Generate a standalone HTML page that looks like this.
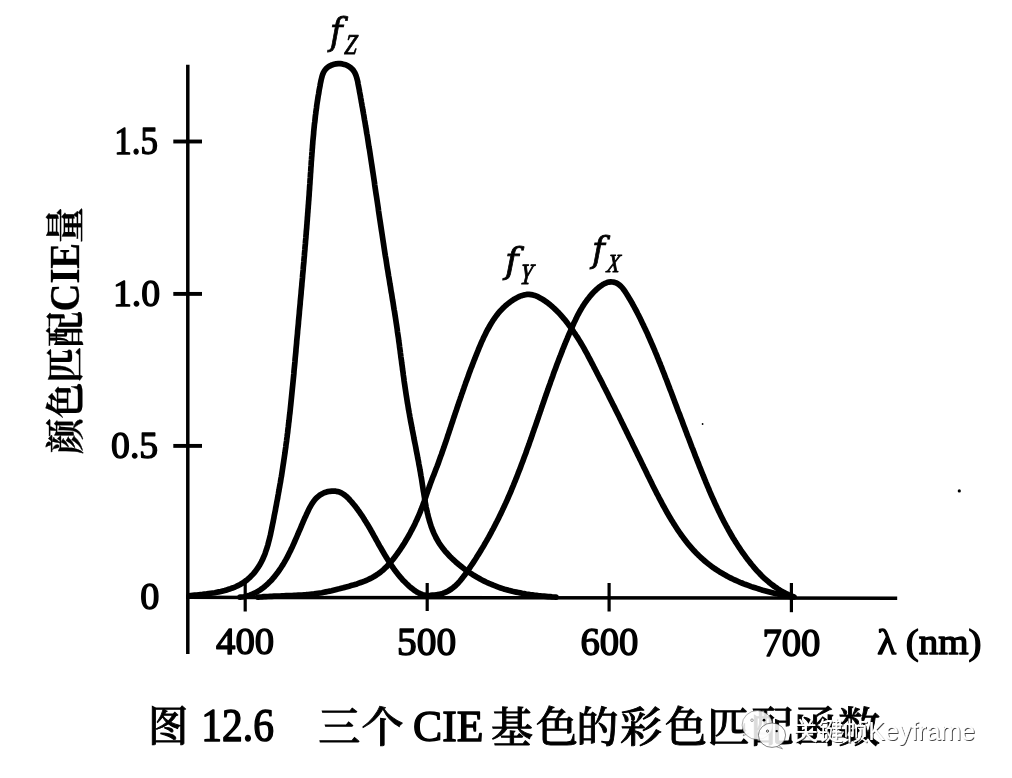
<!DOCTYPE html>
<html><head><meta charset="utf-8"><title>CIE color matching functions</title>
<style>
html,body{margin:0;padding:0;background:#fff;}
body{width:1012px;height:778px;overflow:hidden;position:relative;}
svg{position:absolute;left:0;top:0;filter:grayscale(1);}
.t{font-family:'Liberation Serif', 'Times New Roman', serif;fill:#000;}
.c{font-family:'Liberation Serif', 'Noto Serif CJK SC', serif;fill:#000;}
.w{font-family:'Liberation Sans', 'Noto Sans CJK SC', sans-serif;}
</style></head>
<body>
<svg width="1012" height="778" viewBox="0 0 1012 778">
<g stroke="#000" stroke-width="3.5" stroke-linecap="butt" fill="none">
<line x1="187.8" y1="64.8" x2="187.8" y2="654"/>
<line x1="186" y1="597.3" x2="897.2" y2="598.2"/>
</g>
<g stroke="#000" stroke-width="3.9" stroke-linecap="butt" fill="none">
<line x1="173.3" y1="141.5" x2="202" y2="141.5"/>
<line x1="173.3" y1="293.9" x2="202" y2="293.9"/>
<line x1="173.3" y1="445.9" x2="202" y2="445.9"/>
</g>
<g stroke="#000" stroke-width="3.2" stroke-linecap="butt" fill="none">
<line x1="245.2" y1="580" x2="245.2" y2="611.5"/>
<line x1="427.2" y1="583" x2="427.2" y2="611"/>
<line x1="609.1" y1="583" x2="609.1" y2="611.5"/>
<line x1="791.4" y1="583" x2="791.4" y2="612.2"/>
</g>
<g stroke="#000" stroke-width="5.7" stroke-linecap="round" stroke-linejoin="round" fill="none">
<path d="M189.0 595.8 L190.9 595.6 L192.8 595.4 L194.7 595.2 L196.7 595.0 L198.6 594.8 L200.6 594.6 L202.6 594.4 L204.6 594.1 L206.6 593.9 L208.7 593.6 L210.7 593.3 L212.7 593.0 L214.7 592.7 L216.8 592.3 L218.8 591.9 L220.8 591.5 L222.8 591.0 L224.7 590.5 L226.7 589.9 L228.6 589.3 L230.5 588.7 L232.4 588.0 L234.3 587.3 L236.1 586.5 L237.9 585.6 L239.7 584.7 L241.4 583.7 L243.1 582.7 L244.7 581.6 L246.3 580.4 L247.8 579.2 L249.3 577.9 L250.7 576.5 L252.1 575.1 L253.5 573.6 L254.7 572.1 L256.0 570.5 L257.1 568.9 L258.3 567.2 L259.3 565.6 L260.3 563.8 L261.3 562.1 L262.2 560.3 L263.0 558.5 L263.8 556.6 L264.6 554.8 L265.3 552.9 L265.9 551.0 L266.6 549.1 L267.2 547.2 L267.8 545.2 L268.3 543.3 L268.8 541.3 L269.3 539.4 L269.8 537.4 L270.3 535.4 L270.7 533.5 L271.1 531.5 L271.5 529.6 L271.9 527.6 L272.3 525.7 L272.7 523.7 L273.1 521.8 L273.5 519.8 L273.9 517.9 L274.2 515.9 L274.6 514.0 L275.0 512.0 L275.4 510.1 L275.7 508.1 L276.1 506.1 L276.5 504.2 L276.8 502.2 L277.2 500.2 L277.6 498.3 L277.9 496.3 L278.3 494.3 L278.6 492.4 L279.0 490.4 L279.3 488.4 L279.7 486.4 L280.0 484.5 L280.4 482.5 L280.7 480.5 L281.0 478.5 L281.4 476.5 L281.7 474.6 L282.0 472.6 L282.3 470.6 L282.6 468.6 L282.9 466.6 L283.2 464.6 L283.5 462.7 L283.8 460.7 L284.1 458.7 L284.4 456.7 L284.7 454.7 L285.0 452.7 L285.2 450.8 L285.5 448.8 L285.8 446.8 L286.0 444.8 L286.3 442.8 L286.6 440.8 L286.8 438.8 L287.1 436.9 L287.3 434.9 L287.6 432.9 L287.8 430.9 L288.0 428.9 L288.3 426.9 L288.5 424.9 L288.7 423.0 L289.0 421.0 L289.2 419.0 L289.4 417.0 L289.6 415.0 L289.9 413.0 L290.1 411.0 L290.3 409.0 L290.5 407.0 L290.7 405.1 L290.9 403.1 L291.1 401.1 L291.3 399.1 L291.5 397.1 L291.7 395.1 L291.9 393.1 L292.1 391.1 L292.3 389.1 L292.5 387.1 L292.7 385.2 L292.9 383.2 L293.1 381.2 L293.3 379.2 L293.5 377.2 L293.7 375.2 L293.9 373.2 L294.0 371.2 L294.2 369.2 L294.4 367.2 L294.6 365.2 L294.8 363.2 L295.0 361.2 L295.1 359.3 L295.3 357.3 L295.5 355.3 L295.7 353.3 L295.9 351.3 L296.0 349.3 L296.2 347.3 L296.4 345.3 L296.6 343.3 L296.7 341.3 L296.9 339.3 L297.1 337.3 L297.3 335.3 L297.5 333.3 L297.6 331.3 L297.8 329.3 L298.0 327.4 L298.2 325.4 L298.4 323.4 L298.5 321.4 L298.7 319.4 L298.9 317.4 L299.1 315.4 L299.3 313.4 L299.4 311.4 L299.6 309.4 L299.8 307.4 L300.0 305.4 L300.2 303.4 L300.3 301.4 L300.5 299.4 L300.7 297.4 L300.9 295.4 L301.1 293.4 L301.2 291.4 L301.4 289.4 L301.6 287.4 L301.8 285.4 L301.9 283.5 L302.1 281.5 L302.3 279.5 L302.5 277.5 L302.6 275.5 L302.8 273.5 L303.0 271.5 L303.2 269.5 L303.3 267.5 L303.5 265.5 L303.7 263.5 L303.9 261.5 L304.0 259.5 L304.2 257.5 L304.4 255.5 L304.5 253.5 L304.7 251.5 L304.9 249.5 L305.0 247.5 L305.2 245.5 L305.4 243.5 L305.5 241.5 L305.7 239.5 L305.9 237.5 L306.0 235.5 L306.2 233.6 L306.3 231.6 L306.5 229.6 L306.7 227.6 L306.8 225.6 L307.0 223.6 L307.1 221.6 L307.3 219.6 L307.4 217.6 L307.6 215.6 L307.7 213.6 L307.9 211.6 L308.0 209.6 L308.2 207.6 L308.3 205.6 L308.5 203.6 L308.6 201.6 L308.8 199.6 L308.9 197.6 L309.1 195.6 L309.2 193.6 L309.3 191.6 L309.5 189.6 L309.6 187.6 L309.7 185.7 L309.9 183.7 L310.0 181.7 L310.1 179.7 L310.3 177.7 L310.4 175.7 L310.5 173.7 L310.7 171.7 L310.8 169.7 L310.9 167.7 L311.1 165.7 L311.2 163.7 L311.3 161.7 L311.5 159.7 L311.6 157.7 L311.8 155.7 L311.9 153.7 L312.1 151.7 L312.2 149.8 L312.4 147.8 L312.5 145.8 L312.7 143.8 L312.8 141.8 L313.0 139.8 L313.2 137.8 L313.4 135.8 L313.6 133.8 L313.7 131.8 L313.9 129.8 L314.1 127.8 L314.3 125.8 L314.5 123.8 L314.8 121.9 L315.0 119.9 L315.2 117.9 L315.4 115.9 L315.7 113.9 L315.9 111.9 L316.2 109.9 L316.5 107.9 L316.7 105.9 L317.0 103.9 L317.3 101.9 L317.6 100.0 L317.9 98.0 L318.2 96.0 L318.6 94.0 L318.9 92.0 L319.2 90.0 L319.6 88.0 L320.0 86.0 L320.3 84.0 L320.7 82.1 L321.1 80.1 L321.6 78.1 L322.1 76.2 L322.7 74.3 L323.4 72.6 L324.4 70.9 L325.5 69.4 L326.8 68.0 L328.4 66.8 L330.1 65.8 L332.0 64.9 L334.0 64.3 L336.1 63.9 L338.2 63.7 L340.3 63.7 L342.3 63.9 L344.3 64.4 L346.2 65.0 L347.9 65.8 L349.6 66.9 L351.1 68.1 L352.5 69.4 L353.7 70.9 L354.7 72.5 L355.5 74.2 L356.2 76.1 L356.8 78.0 L357.3 79.9 L357.8 82.0 L358.1 84.0 L358.5 86.0 L358.9 88.0 L359.3 90.0 L359.6 92.0 L360.0 94.0 L360.4 96.0 L360.7 98.0 L361.1 100.0 L361.4 102.0 L361.8 104.0 L362.1 106.0 L362.5 107.9 L362.8 109.9 L363.2 111.9 L363.5 113.8 L363.9 115.8 L364.2 117.8 L364.5 119.7 L364.9 121.7 L365.2 123.6 L365.5 125.6 L365.9 127.6 L366.2 129.5 L366.5 131.5 L366.8 133.5 L367.2 135.4 L367.5 137.4 L367.8 139.4 L368.1 141.3 L368.4 143.3 L368.7 145.3 L369.0 147.3 L369.4 149.2 L369.7 151.2 L370.0 153.2 L370.3 155.1 L370.6 157.1 L370.9 159.1 L371.2 161.1 L371.5 163.1 L371.8 165.0 L372.1 167.0 L372.4 169.0 L372.7 171.0 L373.0 172.9 L373.3 174.9 L373.6 176.9 L373.9 178.9 L374.2 180.9 L374.5 182.9 L374.7 184.8 L375.0 186.8 L375.3 188.8 L375.6 190.8 L375.9 192.8 L376.2 194.7 L376.5 196.7 L376.8 198.7 L377.1 200.7 L377.4 202.7 L377.7 204.7 L378.0 206.7 L378.3 208.6 L378.5 210.6 L378.8 212.6 L379.1 214.6 L379.4 216.6 L379.7 218.6 L380.0 220.5 L380.3 222.5 L380.6 224.5 L380.9 226.5 L381.2 228.5 L381.5 230.5 L381.8 232.4 L382.1 234.4 L382.4 236.4 L382.7 238.4 L383.0 240.4 L383.3 242.4 L383.6 244.3 L383.9 246.3 L384.2 248.3 L384.5 250.3 L384.8 252.3 L385.1 254.2 L385.4 256.2 L385.8 258.2 L386.1 260.2 L386.4 262.2 L386.7 264.1 L387.0 266.1 L387.3 268.1 L387.7 270.1 L388.0 272.0 L388.3 274.0 L388.6 276.0 L389.0 278.0 L389.3 279.9 L389.6 281.9 L389.9 283.9 L390.3 285.9 L390.6 287.8 L390.9 289.8 L391.2 291.8 L391.6 293.7 L391.9 295.7 L392.2 297.7 L392.5 299.7 L392.9 301.6 L393.2 303.6 L393.5 305.6 L393.8 307.6 L394.1 309.5 L394.5 311.5 L394.8 313.5 L395.1 315.5 L395.4 317.4 L395.7 319.4 L396.0 321.4 L396.3 323.4 L396.6 325.3 L396.9 327.3 L397.2 329.3 L397.4 331.3 L397.7 333.3 L398.0 335.2 L398.3 337.2 L398.6 339.2 L398.8 341.2 L399.1 343.2 L399.4 345.2 L399.6 347.1 L399.9 349.1 L400.2 351.1 L400.4 353.1 L400.7 355.1 L400.9 357.1 L401.2 359.0 L401.5 361.0 L401.7 363.0 L402.0 365.0 L402.3 367.0 L402.5 369.0 L402.8 371.0 L403.1 372.9 L403.3 374.9 L403.6 376.9 L403.9 378.9 L404.1 380.9 L404.4 382.9 L404.7 384.8 L405.0 386.8 L405.3 388.8 L405.6 390.8 L405.9 392.8 L406.2 394.8 L406.5 396.7 L406.8 398.7 L407.1 400.7 L407.4 402.7 L407.8 404.6 L408.1 406.6 L408.4 408.6 L408.8 410.6 L409.1 412.5 L409.5 414.5 L409.8 416.5 L410.2 418.5 L410.5 420.4 L410.9 422.4 L411.3 424.4 L411.7 426.3 L412.0 428.3 L412.4 430.3 L412.8 432.2 L413.2 434.2 L413.6 436.2 L413.9 438.1 L414.3 440.1 L414.7 442.1 L415.1 444.0 L415.5 446.0 L415.9 448.0 L416.2 449.9 L416.6 451.9 L417.0 453.9 L417.4 455.8 L417.7 457.8 L418.1 459.8 L418.5 461.7 L418.8 463.7 L419.2 465.7 L419.6 467.6 L419.9 469.6 L420.3 471.6 L420.6 473.5 L420.9 475.5 L421.3 477.5 L421.6 479.4 L421.9 481.4 L422.2 483.4 L422.5 485.4 L422.8 487.3 L423.1 489.3 L423.4 491.3 L423.8 493.3 L424.1 495.2 L424.4 497.2 L424.7 499.2 L425.0 501.1 L425.4 503.1 L425.8 505.1 L426.1 507.0 L426.5 509.0 L427.0 510.9 L427.4 512.9 L427.9 514.8 L428.3 516.8 L428.9 518.7 L429.4 520.7 L430.0 522.6 L430.6 524.5 L431.2 526.4 L431.9 528.3 L432.6 530.2 L433.4 532.1 L434.2 533.9 L435.1 535.7 L435.9 537.5 L436.9 539.3 L437.9 541.0 L438.9 542.7 L440.0 544.4 L441.1 546.0 L442.3 547.6 L443.6 549.2 L444.8 550.8 L446.1 552.3 L447.5 553.8 L448.8 555.2 L450.2 556.7 L451.6 558.1 L453.1 559.5 L454.6 560.8 L456.0 562.2 L457.6 563.5 L459.1 564.8 L460.6 566.0 L462.2 567.3 L463.8 568.5 L465.4 569.7 L467.0 570.9 L468.7 572.0 L470.3 573.1 L472.0 574.2 L473.7 575.3 L475.4 576.3 L477.1 577.3 L478.9 578.3 L480.6 579.3 L482.4 580.2 L484.2 581.1 L486.0 582.0 L487.8 582.8 L489.6 583.7 L491.5 584.4 L493.3 585.2 L495.2 585.9 L497.0 586.6 L498.9 587.3 L500.8 588.0 L502.7 588.6 L504.6 589.2 L506.6 589.7 L508.5 590.3 L510.4 590.8 L512.4 591.3 L514.3 591.7 L516.3 592.1 L518.2 592.5 L520.2 592.9 L522.2 593.3 L524.2 593.6 L526.1 594.0 L528.1 594.3 L530.1 594.6 L532.1 594.8 L534.1 595.1 L536.1 595.3 L538.1 595.6 L540.1 595.8 L542.1 596.0 L544.1 596.2 L546.1 596.4 L548.1 596.6 L550.1 596.7 L552.0 596.9 L554.0 597.0 L556.0 597.2"/>
<path d="M240.0 597.2 L242.0 597.0 L244.0 596.7 L246.0 596.3 L247.9 595.8 L249.8 595.2 L251.6 594.5 L253.4 593.7 L255.2 592.9 L256.9 591.9 L258.6 590.9 L260.3 589.8 L261.9 588.7 L263.5 587.5 L265.1 586.2 L266.6 584.9 L268.1 583.5 L269.5 582.1 L270.9 580.7 L272.3 579.2 L273.6 577.7 L274.9 576.1 L276.1 574.5 L277.4 572.9 L278.6 571.3 L279.7 569.6 L280.8 568.0 L281.9 566.3 L283.0 564.6 L284.0 562.9 L285.0 561.1 L286.0 559.4 L287.0 557.6 L287.9 555.9 L288.8 554.1 L289.7 552.3 L290.6 550.5 L291.4 548.7 L292.3 546.9 L293.1 545.1 L293.9 543.3 L294.7 541.5 L295.5 539.7 L296.3 537.9 L297.1 536.0 L297.9 534.2 L298.6 532.4 L299.4 530.6 L300.2 528.8 L301.0 526.9 L301.7 525.1 L302.5 523.3 L303.3 521.4 L304.1 519.6 L304.9 517.7 L305.8 515.9 L306.6 514.0 L307.5 512.2 L308.4 510.3 L309.3 508.4 L310.3 506.6 L311.3 504.9 L312.4 503.1 L313.5 501.5 L314.7 499.9 L316.0 498.4 L317.4 497.1 L318.9 495.8 L320.5 494.7 L322.3 493.7 L324.1 492.8 L325.9 492.2 L327.9 491.6 L329.8 491.3 L331.8 491.1 L333.8 491.0 L335.7 491.2 L337.6 491.6 L339.5 492.1 L341.3 492.9 L342.9 493.9 L344.6 495.0 L346.1 496.2 L347.6 497.6 L349.0 499.0 L350.4 500.6 L351.8 502.1 L353.1 503.7 L354.4 505.3 L355.7 506.9 L356.9 508.5 L358.1 510.2 L359.3 511.8 L360.4 513.5 L361.6 515.1 L362.7 516.8 L363.8 518.5 L364.8 520.2 L365.9 521.9 L366.9 523.6 L368.0 525.3 L369.0 527.0 L370.0 528.7 L371.0 530.5 L372.0 532.2 L372.9 533.9 L373.9 535.7 L374.9 537.4 L375.8 539.1 L376.8 540.9 L377.8 542.6 L378.7 544.3 L379.7 546.1 L380.7 547.8 L381.7 549.5 L382.7 551.3 L383.7 553.0 L384.7 554.7 L385.7 556.4 L386.8 558.1 L387.8 559.8 L388.9 561.5 L390.0 563.2 L391.1 564.8 L392.2 566.5 L393.4 568.2 L394.5 569.8 L395.7 571.4 L397.0 573.0 L398.2 574.6 L399.5 576.1 L400.8 577.7 L402.1 579.2 L403.5 580.7 L404.9 582.1 L406.3 583.5 L407.8 584.9 L409.3 586.3 L410.8 587.6 L412.4 588.8 L414.0 590.1 L415.6 591.2 L417.3 592.3 L419.1 593.2 L420.8 594.0 L422.6 594.7 L424.5 595.2 L426.4 595.4 L428.3 595.5 L430.3 595.4 L432.4 595.2 L434.4 595.0 L436.6 594.7 L438.7 594.4 L440.7 593.9 L442.7 593.4 L444.6 592.7 L446.4 591.9 L448.2 591.0 L449.8 590.0 L451.4 589.0 L453.0 587.8 L454.5 586.6 L455.9 585.3 L457.3 583.9 L458.7 582.5 L460.0 581.0 L461.2 579.5 L462.5 577.9 L463.7 576.3 L464.9 574.7 L466.1 573.1 L467.2 571.4 L468.4 569.8 L469.5 568.1 L470.6 566.4 L471.8 564.8 L472.9 563.1 L474.0 561.4 L475.1 559.7 L476.2 558.0 L477.2 556.3 L478.3 554.6 L479.4 552.9 L480.4 551.2 L481.4 549.5 L482.5 547.8 L483.5 546.1 L484.5 544.3 L485.5 542.6 L486.5 540.9 L487.5 539.1 L488.5 537.4 L489.5 535.6 L490.4 533.9 L491.4 532.1 L492.3 530.3 L493.3 528.6 L494.2 526.8 L495.1 525.0 L496.0 523.2 L496.9 521.5 L497.8 519.7 L498.7 517.9 L499.6 516.1 L500.5 514.3 L501.3 512.5 L502.2 510.7 L503.0 508.9 L503.9 507.1 L504.7 505.3 L505.6 503.4 L506.4 501.6 L507.2 499.8 L508.0 498.0 L508.8 496.1 L509.6 494.3 L510.4 492.5 L511.2 490.6 L511.9 488.8 L512.7 486.9 L513.5 485.1 L514.2 483.2 L515.0 481.4 L515.7 479.5 L516.5 477.7 L517.2 475.8 L517.9 474.0 L518.6 472.1 L519.4 470.2 L520.1 468.4 L520.8 466.5 L521.5 464.6 L522.2 462.8 L522.9 460.9 L523.6 459.0 L524.3 457.1 L525.0 455.3 L525.7 453.4 L526.4 451.5 L527.0 449.6 L527.7 447.7 L528.4 445.9 L529.1 444.0 L529.7 442.1 L530.4 440.2 L531.1 438.3 L531.7 436.4 L532.4 434.5 L533.0 432.6 L533.7 430.7 L534.3 428.8 L535.0 427.0 L535.7 425.1 L536.3 423.2 L537.0 421.3 L537.6 419.4 L538.3 417.5 L538.9 415.6 L539.6 413.7 L540.2 411.8 L540.9 409.9 L541.5 408.0 L542.2 406.1 L542.8 404.2 L543.5 402.3 L544.1 400.4 L544.8 398.5 L545.4 396.6 L546.1 394.8 L546.7 392.9 L547.4 391.0 L548.1 389.1 L548.7 387.2 L549.4 385.3 L550.1 383.4 L550.7 381.5 L551.4 379.7 L552.1 377.8 L552.8 375.9 L553.4 374.0 L554.1 372.1 L554.8 370.3 L555.5 368.4 L556.2 366.5 L556.9 364.6 L557.6 362.8 L558.3 360.9 L559.0 359.0 L559.7 357.2 L560.5 355.3 L561.2 353.4 L561.9 351.6 L562.6 349.7 L563.4 347.9 L564.1 346.0 L564.9 344.2 L565.6 342.3 L566.4 340.5 L567.2 338.6 L567.9 336.8 L568.7 335.0 L569.5 333.1 L570.3 331.3 L571.1 329.5 L571.9 327.6 L572.7 325.8 L573.5 324.0 L574.3 322.2 L575.2 320.4 L576.1 318.6 L576.9 316.8 L577.8 315.0 L578.8 313.3 L579.7 311.5 L580.7 309.8 L581.7 308.1 L582.7 306.4 L583.8 304.7 L584.9 303.0 L586.1 301.4 L587.2 299.8 L588.5 298.2 L589.7 296.6 L591.0 295.1 L592.4 293.5 L593.8 292.1 L595.3 290.6 L596.8 289.2 L598.4 287.8 L600.0 286.5 L601.7 285.3 L603.4 284.2 L605.2 283.3 L607.0 282.6 L608.9 282.1 L610.8 281.9 L612.7 282.0 L614.6 282.4 L616.4 283.0 L618.1 284.0 L619.6 285.1 L621.0 286.4 L622.4 287.9 L623.6 289.5 L624.8 291.2 L626.0 293.0 L627.1 294.7 L628.2 296.5 L629.2 298.2 L630.3 300.0 L631.3 301.7 L632.3 303.5 L633.2 305.2 L634.2 306.9 L635.1 308.7 L636.1 310.5 L637.0 312.2 L637.9 314.0 L638.8 315.7 L639.7 317.5 L640.6 319.3 L641.4 321.1 L642.3 322.9 L643.2 324.7 L644.0 326.5 L644.9 328.3 L645.7 330.1 L646.6 331.9 L647.4 333.7 L648.2 335.5 L649.0 337.3 L649.8 339.2 L650.6 341.0 L651.4 342.8 L652.2 344.7 L653.0 346.5 L653.8 348.3 L654.6 350.2 L655.3 352.0 L656.1 353.9 L656.9 355.7 L657.6 357.6 L658.4 359.4 L659.1 361.3 L659.9 363.1 L660.6 365.0 L661.4 366.9 L662.1 368.7 L662.8 370.6 L663.6 372.5 L664.3 374.3 L665.0 376.2 L665.7 378.1 L666.5 379.9 L667.2 381.8 L667.9 383.7 L668.6 385.6 L669.3 387.4 L670.0 389.3 L670.8 391.2 L671.5 393.0 L672.2 394.9 L672.9 396.8 L673.6 398.7 L674.3 400.5 L675.0 402.4 L675.7 404.3 L676.4 406.1 L677.1 408.0 L677.8 409.9 L678.5 411.8 L679.3 413.6 L680.0 415.5 L680.7 417.4 L681.4 419.2 L682.1 421.1 L682.8 423.0 L683.5 424.9 L684.2 426.7 L684.9 428.6 L685.6 430.5 L686.3 432.3 L687.0 434.2 L687.7 436.1 L688.5 437.9 L689.2 439.8 L689.9 441.7 L690.6 443.5 L691.3 445.4 L692.0 447.3 L692.8 449.1 L693.5 451.0 L694.2 452.8 L694.9 454.7 L695.6 456.6 L696.4 458.4 L697.1 460.3 L697.8 462.2 L698.6 464.0 L699.3 465.9 L700.0 467.7 L700.8 469.6 L701.5 471.5 L702.3 473.3 L703.0 475.2 L703.8 477.0 L704.5 478.9 L705.3 480.7 L706.0 482.6 L706.8 484.4 L707.6 486.3 L708.4 488.1 L709.1 490.0 L709.9 491.8 L710.7 493.7 L711.5 495.5 L712.3 497.3 L713.2 499.2 L714.0 501.0 L714.8 502.8 L715.6 504.6 L716.5 506.4 L717.3 508.2 L718.2 510.0 L719.0 511.8 L719.9 513.6 L720.8 515.4 L721.7 517.2 L722.6 519.0 L723.5 520.8 L724.4 522.5 L725.4 524.3 L726.3 526.1 L727.3 527.8 L728.2 529.6 L729.2 531.3 L730.2 533.0 L731.2 534.8 L732.2 536.5 L733.2 538.2 L734.3 539.9 L735.3 541.6 L736.4 543.3 L737.5 545.0 L738.6 546.7 L739.7 548.3 L740.8 550.0 L741.9 551.6 L743.1 553.3 L744.3 554.9 L745.4 556.5 L746.6 558.1 L747.8 559.7 L749.1 561.3 L750.3 562.9 L751.6 564.5 L752.9 566.0 L754.2 567.6 L755.5 569.1 L756.8 570.6 L758.2 572.1 L759.6 573.5 L761.0 575.0 L762.4 576.4 L763.8 577.8 L765.3 579.1 L766.8 580.4 L768.3 581.7 L769.8 583.0 L771.4 584.2 L773.0 585.4 L774.6 586.6 L776.2 587.7 L777.8 588.8 L779.5 589.9 L781.2 590.9 L783.0 591.9 L784.7 592.8 L786.5 593.7 L788.4 594.6 L790.2 595.3 L792.1 596.1 L794.0 596.8"/>
<path d="M258.0 597.2 L260.0 597.0 L261.9 596.9 L263.9 596.7 L265.9 596.6 L267.9 596.5 L269.9 596.4 L271.9 596.3 L273.9 596.2 L275.9 596.1 L277.9 596.0 L279.9 596.0 L281.9 595.9 L284.0 595.8 L286.0 595.7 L288.0 595.7 L290.0 595.6 L292.1 595.5 L294.1 595.4 L296.1 595.3 L298.1 595.2 L300.1 595.1 L302.1 595.0 L304.1 594.8 L306.1 594.7 L308.1 594.5 L310.1 594.3 L312.1 594.1 L314.1 593.9 L316.1 593.6 L318.0 593.3 L320.0 593.0 L321.9 592.7 L323.9 592.3 L325.8 591.9 L327.7 591.5 L329.7 591.1 L331.6 590.7 L333.5 590.2 L335.5 589.7 L337.4 589.2 L339.3 588.8 L341.3 588.3 L343.3 587.8 L345.2 587.2 L347.2 586.7 L349.1 586.2 L351.1 585.6 L353.1 585.1 L355.0 584.5 L357.0 583.9 L358.9 583.2 L360.8 582.5 L362.7 581.8 L364.6 581.1 L366.5 580.3 L368.3 579.5 L370.1 578.6 L371.9 577.7 L373.6 576.8 L375.3 575.8 L376.9 574.7 L378.6 573.6 L380.1 572.4 L381.7 571.1 L383.2 569.9 L384.6 568.5 L386.1 567.2 L387.5 565.7 L388.8 564.3 L390.1 562.8 L391.4 561.3 L392.7 559.7 L394.0 558.1 L395.2 556.5 L396.4 554.9 L397.6 553.3 L398.7 551.6 L399.9 550.0 L401.0 548.3 L402.1 546.6 L403.2 544.9 L404.3 543.2 L405.3 541.5 L406.3 539.8 L407.4 538.0 L408.4 536.3 L409.3 534.6 L410.3 532.8 L411.2 531.0 L412.2 529.3 L413.1 527.5 L414.0 525.7 L414.9 523.9 L415.7 522.1 L416.6 520.3 L417.4 518.4 L418.2 516.6 L419.0 514.8 L419.8 512.9 L420.5 511.1 L421.3 509.2 L422.0 507.3 L422.7 505.5 L423.4 503.6 L424.1 501.7 L424.7 499.8 L425.4 497.9 L426.1 496.0 L426.7 494.1 L427.4 492.2 L428.0 490.3 L428.7 488.5 L429.4 486.6 L430.0 484.7 L430.7 482.8 L431.4 481.0 L432.1 479.1 L432.8 477.2 L433.6 475.4 L434.3 473.5 L435.0 471.7 L435.7 469.8 L436.4 468.0 L437.2 466.1 L437.9 464.2 L438.6 462.3 L439.2 460.4 L439.9 458.5 L440.6 456.6 L441.3 454.8 L442.0 452.8 L442.6 450.9 L443.3 449.0 L444.0 447.1 L444.6 445.2 L445.3 443.3 L445.9 441.4 L446.6 439.5 L447.2 437.6 L447.8 435.6 L448.5 433.7 L449.1 431.8 L449.7 429.9 L450.4 428.0 L451.0 426.1 L451.6 424.2 L452.3 422.3 L452.9 420.4 L453.5 418.5 L454.2 416.6 L454.8 414.7 L455.4 412.8 L456.1 411.0 L456.7 409.1 L457.3 407.2 L458.0 405.3 L458.6 403.4 L459.2 401.5 L459.9 399.7 L460.5 397.8 L461.2 395.9 L461.8 394.0 L462.5 392.2 L463.1 390.3 L463.8 388.4 L464.4 386.5 L465.1 384.7 L465.7 382.8 L466.4 380.9 L467.1 379.1 L467.8 377.2 L468.5 375.3 L469.1 373.4 L469.8 371.6 L470.5 369.7 L471.2 367.8 L472.0 366.0 L472.7 364.1 L473.4 362.2 L474.1 360.3 L474.9 358.5 L475.6 356.6 L476.4 354.7 L477.1 352.8 L477.9 350.9 L478.6 349.1 L479.4 347.2 L480.2 345.3 L481.0 343.4 L481.8 341.5 L482.7 339.7 L483.5 337.8 L484.4 336.0 L485.3 334.2 L486.2 332.3 L487.1 330.5 L488.1 328.8 L489.1 327.0 L490.1 325.2 L491.1 323.5 L492.2 321.8 L493.2 320.1 L494.4 318.5 L495.5 316.9 L496.7 315.3 L497.9 313.7 L499.2 312.2 L500.5 310.7 L501.9 309.3 L503.2 307.9 L504.7 306.5 L506.1 305.2 L507.7 303.9 L509.2 302.7 L510.8 301.5 L512.5 300.3 L514.2 299.2 L516.0 298.2 L517.8 297.3 L519.6 296.4 L521.5 295.7 L523.4 295.1 L525.3 294.7 L527.2 294.4 L529.1 294.4 L530.9 294.6 L532.8 294.9 L534.7 295.4 L536.5 296.1 L538.3 296.9 L540.1 297.9 L541.9 298.9 L543.6 300.0 L545.3 301.1 L547.0 302.3 L548.6 303.6 L550.2 304.8 L551.7 306.1 L553.2 307.5 L554.7 308.9 L556.2 310.3 L557.6 311.7 L559.0 313.1 L560.4 314.6 L561.7 316.1 L563.0 317.6 L564.3 319.2 L565.6 320.7 L566.8 322.3 L568.0 323.9 L569.2 325.5 L570.4 327.1 L571.6 328.7 L572.7 330.3 L573.8 332.0 L574.9 333.6 L576.0 335.3 L577.1 336.9 L578.2 338.6 L579.2 340.3 L580.3 342.0 L581.3 343.7 L582.3 345.4 L583.3 347.1 L584.3 348.9 L585.2 350.6 L586.2 352.4 L587.2 354.2 L588.1 355.9 L589.0 357.7 L590.0 359.5 L590.9 361.2 L591.8 363.0 L592.8 364.8 L593.7 366.6 L594.6 368.3 L595.5 370.1 L596.5 371.9 L597.4 373.7 L598.3 375.5 L599.2 377.2 L600.1 379.0 L601.1 380.8 L602.0 382.6 L602.9 384.4 L603.8 386.2 L604.7 388.0 L605.6 389.7 L606.5 391.5 L607.4 393.3 L608.3 395.1 L609.2 396.9 L610.1 398.7 L611.0 400.5 L611.9 402.3 L612.8 404.1 L613.7 405.8 L614.6 407.6 L615.5 409.4 L616.4 411.2 L617.3 413.0 L618.2 414.8 L619.1 416.6 L620.0 418.4 L620.9 420.2 L621.7 422.0 L622.6 423.8 L623.5 425.6 L624.4 427.4 L625.3 429.2 L626.2 431.0 L627.0 432.8 L627.9 434.6 L628.8 436.4 L629.7 438.2 L630.6 440.0 L631.5 441.8 L632.3 443.6 L633.2 445.4 L634.1 447.2 L635.0 449.0 L635.8 450.8 L636.7 452.6 L637.6 454.4 L638.5 456.2 L639.4 458.0 L640.2 459.8 L641.1 461.6 L642.0 463.4 L642.9 465.2 L643.7 467.0 L644.6 468.8 L645.5 470.6 L646.4 472.4 L647.2 474.2 L648.1 476.0 L649.0 477.8 L649.9 479.6 L650.8 481.3 L651.6 483.1 L652.5 484.9 L653.4 486.7 L654.3 488.5 L655.2 490.3 L656.1 492.1 L657.0 493.9 L658.0 495.6 L658.9 497.4 L659.8 499.2 L660.8 501.0 L661.7 502.7 L662.6 504.5 L663.6 506.3 L664.6 508.0 L665.5 509.8 L666.5 511.5 L667.5 513.3 L668.5 515.0 L669.5 516.7 L670.6 518.5 L671.6 520.2 L672.7 521.9 L673.7 523.6 L674.8 525.3 L675.9 527.0 L677.0 528.7 L678.1 530.4 L679.2 532.0 L680.4 533.7 L681.5 535.3 L682.7 536.9 L683.9 538.5 L685.1 540.1 L686.4 541.7 L687.6 543.3 L688.9 544.8 L690.2 546.3 L691.5 547.8 L692.8 549.3 L694.1 550.8 L695.5 552.3 L696.9 553.7 L698.3 555.1 L699.8 556.5 L701.2 557.8 L702.7 559.2 L704.2 560.5 L705.7 561.8 L707.3 563.1 L708.8 564.3 L710.4 565.5 L712.0 566.7 L713.6 567.9 L715.3 569.0 L717.0 570.1 L718.6 571.2 L720.3 572.3 L722.1 573.3 L723.8 574.3 L725.6 575.3 L727.3 576.3 L729.1 577.2 L730.9 578.1 L732.7 579.0 L734.5 579.8 L736.4 580.7 L738.2 581.5 L740.1 582.3 L741.9 583.0 L743.8 583.8 L745.7 584.5 L747.5 585.2 L749.4 585.9 L751.3 586.6 L753.2 587.2 L755.1 587.8 L757.0 588.4 L758.9 589.0 L760.8 589.6 L762.7 590.2 L764.7 590.7 L766.6 591.2 L768.5 591.7 L770.5 592.2 L772.4 592.7 L774.3 593.2 L776.3 593.6 L778.2 594.1 L780.2 594.5 L782.2 594.9 L784.1 595.3 L786.1 595.7 L788.1 596.1 L790.0 596.4 L792.0 596.8"/>
</g>
<circle cx="959.3" cy="490.9" r="1.6" fill="#000"/>
<circle cx="702.6" cy="424" r="0.9" fill="#000"/>
<g id="y15" transform="translate(114.32,153.66) scale(0.8517,0.9511)"><text class="t" font-size="41" stroke="#000" stroke-width="1.5" stroke-linejoin="round" >1.5</text></g>
<g id="y10" transform="translate(112.92,305.88) scale(0.9217,0.9263)"><text class="t" font-size="41" stroke="#000" stroke-width="1.5" stroke-linejoin="round" >1.0</text></g>
<g id="y05" transform="translate(111.08,458.31) scale(0.9189,0.9486)"><text class="t" font-size="41" stroke="#000" stroke-width="1.5" stroke-linejoin="round" >0.5</text></g>
<g id="y0" transform="translate(140.19,609.49) scale(0.9335,0.9465)"><text class="t" font-size="41" stroke="#000" stroke-width="1.5" stroke-linejoin="round" >0</text></g>
<g id="x400" transform="translate(216.05,654.31) scale(0.9461,0.9471)"><text class="t" font-size="41" stroke="#000" stroke-width="1.5" stroke-linejoin="round" >400</text></g>
<g id="x500" transform="translate(397.08,655.04) scale(0.9621,0.9600)"><text class="t" font-size="41" stroke="#000" stroke-width="1.5" stroke-linejoin="round" >500</text></g>
<g id="x600" transform="translate(580.44,655.05) scale(0.9436,0.9548)"><text class="t" font-size="41" stroke="#000" stroke-width="1.5" stroke-linejoin="round" >600</text></g>
<g id="x700" transform="translate(762.40,655.58) scale(0.9443,0.9518)"><text class="t" font-size="41" stroke="#000" stroke-width="1.5" stroke-linejoin="round" >700</text></g>
<g id="lam" transform="translate(877.19,654.00) scale(0.9507,0.8771)"><text class="t" font-size="41" stroke="#000" stroke-width="1.5" stroke-linejoin="round" >λ (nm)</text></g>
<g id="fzf" transform="translate(329.68,44.44) scale(0.9761,1.0143)"><text font-family="'DejaVu Serif', serif" font-size="36" font-style="italic" fill="#000" stroke="#000" stroke-width="0.8">f</text></g>
<g id="fzs" transform="translate(343.95,54.26) scale(0.7576,0.9873)"><text class="t" font-size="29" font-style="italic" transform="skewX(-8)" stroke="#000" stroke-width="1.0" stroke-linejoin="round">Z</text></g>
<g id="fyf" transform="translate(504.96,273.40) scale(1.0238,0.9729)"><text font-family="'DejaVu Serif', serif" font-size="36" font-style="italic" fill="#000" stroke="#000" stroke-width="0.8">f</text></g>
<g id="fys" transform="translate(519.49,283.73) scale(0.7571,1.0172)"><text class="t" font-size="29" font-style="italic" transform="skewX(-8)" stroke="#000" stroke-width="1.0" stroke-linejoin="round">Y</text></g>
<g id="fxf" transform="translate(591.92,262.49) scale(0.9718,0.9987)"><text font-family="'DejaVu Serif', serif" font-size="36" font-style="italic" fill="#000" stroke="#000" stroke-width="0.8">f</text></g>
<g id="fxs" transform="translate(606.14,272.40) scale(0.7391,0.8958)"><text class="t" font-size="29" font-style="italic" transform="skewX(-8)" stroke="#000" stroke-width="1.0" stroke-linejoin="round">X</text></g>
<g id="ytitle" transform="translate(79.15,454.06) scale(1.0486,0.9638)"><text class="c" font-size="37" font-weight="bold" transform="rotate(-90)" stroke="#000" stroke-width="0.3">颜色匹配<tspan font-size="40">CIE</tspan>量</text></g>
<g id="cap_tu" transform="translate(147.91,740.60) scale(0.9600,1.0000)"><text class="c" font-size="42" font-weight="500" stroke="#000" stroke-width="0.9">图</text></g>
<g id="cap_126" transform="translate(201.35,741.06) scale(0.8824,0.9771)"><text class="t" font-size="47" stroke="#000" stroke-width="1.5" stroke-linejoin="round" >12.6</text></g>
<g id="cap_cie" transform="translate(413.07,741.13) scale(0.9289,0.9204)"><text class="t" font-size="47" stroke="#000" stroke-width="1.5" stroke-linejoin="round" >CIE</text></g>
<g id="cj0" transform="translate(318.20,742.25)"><text class="c" font-size="42" font-weight="500" stroke="#000" stroke-width="0.9">三</text></g>
<g id="cj1" transform="translate(361.50,742.25)"><text class="c" font-size="42" font-weight="500" stroke="#000" stroke-width="0.9">个</text></g>
<g id="cj2" transform="translate(490.90,742.25)"><text class="c" font-size="42" font-weight="500" stroke="#000" stroke-width="0.9">基</text></g>
<g id="cj3" transform="translate(535.90,742.25)"><text class="c" font-size="42" font-weight="500" stroke="#000" stroke-width="0.9">色</text></g>
<g id="cj4" transform="translate(576.60,742.25)"><text class="c" font-size="42" font-weight="500" stroke="#000" stroke-width="0.9">的</text></g>
<g id="cj5" transform="translate(620.10,742.25)"><text class="c" font-size="42" font-weight="500" stroke="#000" stroke-width="0.9">彩</text></g>
<g id="cj6" transform="translate(665.10,742.25)"><text class="c" font-size="42" font-weight="500" stroke="#000" stroke-width="0.9">色</text></g>
<g id="cj7" transform="translate(707.30,742.25)"><text class="c" font-size="42" font-weight="500" stroke="#000" stroke-width="0.9">匹</text></g>
<g id="cj8" transform="translate(751.50,742.25)"><text class="c" font-size="42" font-weight="500" stroke="#000" stroke-width="0.9">配</text></g>
<g id="cj9" transform="translate(793.80,742.25)"><text class="c" font-size="42" font-weight="500" stroke="#000" stroke-width="0.9">函</text></g>
<g id="cj10" transform="translate(837.90,742.25)"><text class="c" font-size="42" font-weight="500" stroke="#000" stroke-width="0.9">数</text></g>
<g id="wxlogo">
<path d="M745.5 730.5 L743.2 735.8 L748.8 733.2" fill="#fff" fill-opacity="0.88" stroke="#000" stroke-opacity="0.55" stroke-width="0.7"/>
<ellipse cx="757.3" cy="725.1" rx="15.2" ry="14.5" fill="#fff" fill-opacity="0.86" stroke="#000" stroke-opacity="0.45" stroke-width="0.7"/>
<circle cx="752" cy="720.2" r="1.3" fill="none" stroke="#000" stroke-opacity="0.6" stroke-width="0.6"/>
<circle cx="764" cy="720.2" r="1.4" fill="#000"/>
<path d="M779 745.5 L782.5 748.8 L776.5 746.8" fill="#fff" fill-opacity="0.88" stroke="#000" stroke-opacity="0.55" stroke-width="0.7"/>
<ellipse cx="772" cy="735.2" rx="13.6" ry="12.2" fill="#fff" fill-opacity="0.86" stroke="#000" stroke-opacity="0.6" stroke-width="0.8"/>
<circle cx="767.5" cy="731.1" r="1.1" fill="none" stroke="#000" stroke-width="0.7"/>
<circle cx="776.7" cy="731.1" r="1.2" fill="#000"/>
</g>

<g id="wm" transform="translate(793.26,739.69) scale(1.0194,1.0185)"><filter id="wmsh" x="-5%" y="-20%" width="110%" height="140%"><feDropShadow dx="0.9" dy="0.9" stdDeviation="0.25" flood-color="#000" flood-opacity="0.8"/></filter><text class="w" font-size="24.5" fill="#fff" filter="url(#wmsh)">关键帧Keyframe</text></g>
</svg>
</body></html>
